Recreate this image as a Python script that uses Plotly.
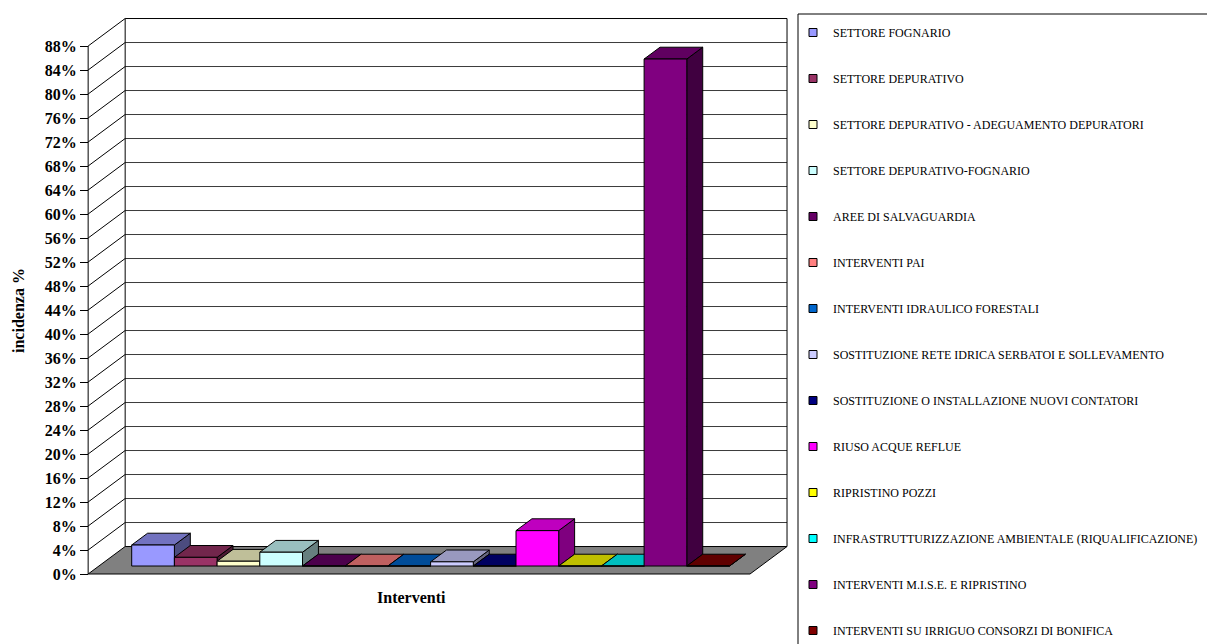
import plotly.graph_objects as go

# ---- data -------------------------------------------------------------
categories = [
    "SETTORE FOGNARIO",
    "SETTORE DEPURATIVO",
    "SETTORE DEPURATIVO - ADEGUAMENTO DEPURATORI",
    "SETTORE DEPURATIVO-FOGNARIO",
    "AREE DI SALVAGUARDIA",
    "INTERVENTI PAI",
    "INTERVENTI IDRAULICO FORESTALI",
    "SOSTITUZIONE RETE IDRICA SERBATOI E SOLLEVAMENTO",
    "SOSTITUZIONE O INSTALLAZIONE NUOVI CONTATORI",
    "RIUSO ACQUE REFLUE",
    "RIPRISTINO POZZI",
    "INFRASTRUTTURIZZAZIONE AMBIENTALE (RIQUALIFICAZIONE)",
    "INTERVENTI M.I.S.E. E RIPRISTINO",
    "INTERVENTI SU IRRIGUO CONSORZI DI BONIFICA",
]
values = [3.5, 1.45, 0.8, 2.3, 0.0, 0.0, 0.0, 0.7, 0.0, 5.9, 0.0, 0.0, 84.5, 0.0]
colors = [
    "#9999FF", "#993366", "#FFFFCC", "#CCFFFF", "#660066", "#FF8080", "#0066CC",
    "#CCCCFF", "#000080", "#FF00FF", "#FFFF00", "#00FFFF", "#800080", "#800000",
]
tick_values = list(range(0, 89, 4))
tick_labels = [f"{v}%" for v in tick_values]

# ---- pseudo-3D geometry (data units: x = bar slots, y = percent) -------
X0, X1 = -1.02, 14.48        # front edge of the floor
DX, DY = 0.867, 4.58         # offset of the back plane
F0, F1 = 0.29, 0.72          # depth span occupied by the bars
YTOP = 88

# pixel frame of the plotting area
PL, PR, PT, PB = 80, 795, 10, 580
PX_PER_X = 42.7
PX_PER_Y = 6.0
X_ORIGIN_PX = 131.7
Y_ORIGIN_PX = 574.0
x_range = [(PL - X_ORIGIN_PX) / PX_PER_X, (PR - X_ORIGIN_PX) / PX_PER_X]
y_range = [(Y_ORIGIN_PX - PB) / PX_PER_Y, (Y_ORIGIN_PX - PT) / PX_PER_Y]


def px_to_paper_x(px):
    return (px - PL) / (PR - PL)


def px_to_paper_y(py):
    return (PB - py) / (PB - PT)


def shade(hex_color, k):
    h = hex_color.lstrip("#")
    r, g, b = (int(h[j:j + 2], 16) for j in (0, 2, 4))
    return "#{:02X}{:02X}{:02X}".format(int(r * k), int(g * k), int(b * k))


FONT = "Liberation Serif, Times New Roman, serif"
fig = go.Figure()

# floor
fig.add_trace(go.Scatter(
    x=[X0, X1, X1 + DX, X0 + DX, X0],
    y=[0, 0, DY, DY, 0],
    mode="lines", fill="toself", fillcolor="#808080",
    line=dict(color="black", width=1),
    showlegend=False, hoverinfo="skip",
))

# back-wall gridlines
gx, gy = [], []
for v in tick_values[1:-1]:
    gx += [X0 + DX, X1 + DX, None]
    gy += [v + DY, v + DY, None]
fig.add_trace(go.Scatter(x=gx, y=gy, mode="lines",
                         line=dict(color="#3a3a3a", width=1),
                         showlegend=False, hoverinfo="skip"))

# wall edges, side-wall diagonals and front axis line
wx, wy = [], []
for v in tick_values[1:]:
    wx += [X0, X0 + DX, None]
    wy += [v, v + DY, None]
wx += [X0 + DX, X1 + DX, None]
wy += [YTOP + DY, YTOP + DY, None]
wx += [X0 + DX, X0 + DX, None, X1 + DX, X1 + DX, None, X0, X0, None]
wy += [DY, YTOP + DY, None, DY, YTOP + DY, None, 0, YTOP, None]
fig.add_trace(go.Scatter(x=wx, y=wy, mode="lines",
                         line=dict(color="black", width=1),
                         showlegend=False, hoverinfo="skip"))

# bars: side, top and front faces, drawn left to right
bx, by = (F1 - F0) * DX, (F1 - F0) * DY
base = F0 * DY
for i, (name, v, c) in enumerate(zip(categories, values, colors)):
    top = base + v
    grp = f"g{i}"
    faces = [
        ([i + 1, i + 1 + bx, i + 1 + bx, i + 1, i + 1],
         [base, base + by, top + by, top, base], shade(c, 0.5)),
        ([i, i + 1, i + 1 + bx, i + bx, i],
         [top, top, top + by, top + by, top], shade(c, 0.75)),
        ([i, i + 1, i + 1, i, i],
         [base, base, top, top, base], c),
    ]
    for fx, fy, fc in faces:
        fig.add_trace(go.Scatter(
            x=fx, y=fy, mode="lines", fill="toself", fillcolor=fc,
            line=dict(color="black", width=1),
            name=name, legendgroup=grp, showlegend=False,
            hovertemplate=f"{name}: {v:.2f}%<extra></extra>",
        ))
    # legend entry
    fig.add_trace(go.Scatter(
        x=[None], y=[None], mode="markers", name=name, legendgroup=grp,
        marker=dict(symbol="square", size=8, color=c,
                    line=dict(color="black", width=1)),
    ))

# legend frame
fig.add_shape(type="rect", xref="paper", yref="paper",
              x0=px_to_paper_x(798), x1=px_to_paper_x(1220),
              y0=px_to_paper_y(660), y1=px_to_paper_y(14),
              line=dict(color="black", width=1), fillcolor="rgba(0,0,0,0)")

# axis titles
fig.add_annotation(text="<b>incidenza %</b>", xref="paper", yref="paper",
                   x=px_to_paper_x(18), y=px_to_paper_y(311), textangle=-90,
                   xanchor="center", yanchor="middle",
                   showarrow=False, font=dict(family=FONT, size=16, color="black"))
fig.add_annotation(text="<b>Interventi</b>", xref="paper", yref="paper",
                   x=px_to_paper_x(411), y=px_to_paper_y(597),
                   xanchor="center", yanchor="middle",
                   showarrow=False, font=dict(family=FONT, size=16, color="black"))

fig.update_layout(
    width=1207, height=644,
    margin=dict(l=PL, r=1207 - PR, t=PT, b=644 - PB, autoexpand=False),
    paper_bgcolor="white", plot_bgcolor="white",
    xaxis=dict(range=x_range, visible=False, fixedrange=True),
    yaxis=dict(
        range=y_range, anchor="free", position=px_to_paper_x(88),
        tickmode="array", tickvals=tick_values, ticktext=tick_labels,
        ticks="outside", ticklen=8, tickcolor="black", tickwidth=1,
        tickfont=dict(family=FONT, size=16, color="black", weight="bold"),
        showgrid=False, zeroline=False, showline=False, fixedrange=True,
    ),
    legend=dict(
        x=px_to_paper_x(793), y=px_to_paper_y(18),
        xanchor="left", yanchor="top",
        font=dict(family=FONT, size=12, color="black"),
        bgcolor="rgba(0,0,0,0)", borderwidth=0,
        tracegroupgap=27, maxheight=2000,
        itemclick=False, itemdoubleclick=False,
    ),
    showlegend=True,
)

fig.write_html("out.html")
